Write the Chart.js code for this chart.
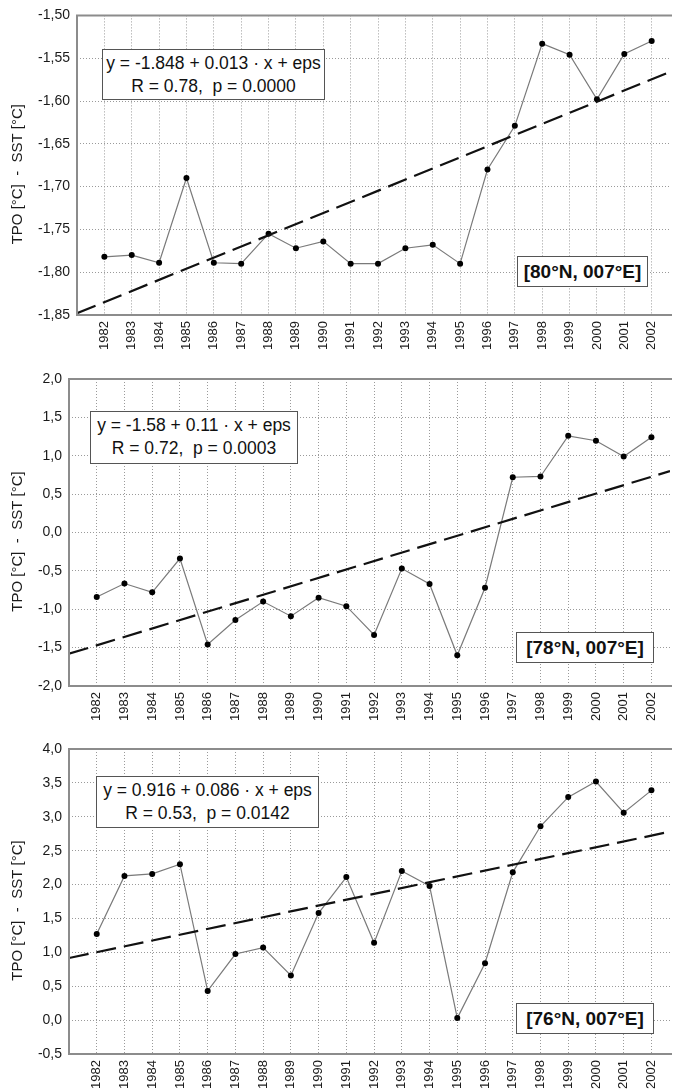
<!DOCTYPE html>
<html>
<head>
<meta charset="utf-8">
<script src="https://cdn.jsdelivr.net/npm/chart.js@4.4.0/dist/chart.umd.min.js"></script>
<style>
body{margin:0;background:#fff;width:674px;height:1092px;position:relative;overflow:hidden;font-family:"Liberation Sans",Arial,sans-serif;}
canvas{position:absolute;left:0;}
.eq{position:absolute;background:#fff;border:1px solid #555;text-align:center;font-size:17.5px;line-height:23px;color:#111;box-sizing:border-box;padding-top:2px;white-space:pre;}
.loc{position:absolute;background:#fff;border:1px solid #555;text-align:center;font-size:19px;font-weight:bold;line-height:29px;color:#111;box-sizing:border-box;white-space:pre;}
</style>
</head>
<body>
<canvas id="c80" width="674" height="370" style="top:0px"></canvas>
<canvas id="c78" width="674" height="370" style="top:360px"></canvas>
<canvas id="c76" width="674" height="372" style="top:720px"></canvas>

<div class="eq" style="left:102px;top:49px;width:223px;height:51px">y = -1.848 + 0.013 · x + eps
R = 0.78,  p = 0.0000</div>
<div class="eq" style="left:90px;top:411px;width:208px;height:53px">y = -1.58 + 0.11 · x + eps
R = 0.72,  p = 0.0003</div>
<div class="eq" style="left:96px;top:776px;width:223px;height:52px">y = 0.916 + 0.086 · x + eps
R = 0.53,  p = 0.0142</div>

<div class="loc" style="left:517px;top:256px;width:131px;height:31px">[80°N, 007°E]</div>
<div class="loc" style="left:516px;top:632px;width:138px;height:31px">[78°N, 007°E]</div>
<div class="loc" style="left:516px;top:1003px;width:138px;height:31px">[76°N, 007°E]</div>

<script>
// years on the x axis
const years = [1982,1983,1984,1985,1986,1987,1988,1989,1990,1991,1992,1993,1994,1995,1996,1997,1998,1999,2000,2001,2002];

// TPO - SST differences
const diff80 = [-1.782,-1.780,-1.789,-1.690,-1.789,-1.790,-1.755,-1.772,-1.764,-1.790,-1.790,-1.772,-1.768,-1.790,-1.680,-1.629,-1.533,-1.546,-1.598,-1.545,-1.530];
const diff78 = [-0.84,-0.665,-0.78,-0.34,-1.46,-1.14,-0.90,-1.09,-0.85,-0.96,-1.335,-0.47,-0.67,-1.60,-0.72,0.72,0.73,1.26,1.195,0.99,1.24];
const diff76 = [1.27,2.127,2.157,2.30,0.43,0.975,1.07,0.66,1.58,2.11,1.14,2.20,1.98,0.03,0.84,2.18,2.86,3.29,3.52,3.06,3.39];

// dashed regression lines, ends at left and right edge of the plot
const trendYears = [1981, 2002.67];
const trend80 = [-1.848, -1.566];
const trend78 = [-1.58, 0.80];
const trend76 = [0.916, 2.78];

// y tick values
const yTicks80 = [-1.85,-1.80,-1.75,-1.70,-1.65,-1.60,-1.55,-1.50];
const yTicks78 = [-2.0,-1.5,-1.0,-0.5,0.0,0.5,1.0,1.5,2.0];
const yTicks76 = [-0.5,0.0,0.5,1.0,1.5,2.0,2.5,3.0,3.5,4.0];

const fontFam = '"Liberation Sans", Arial, sans-serif';

const framePlugin = {
    id: 'frame',
    afterDraw(chart) {
        const a = chart.chartArea;
        const ctx = chart.ctx;
        ctx.save();
        ctx.strokeStyle = '#8c8c8c';
        ctx.lineWidth = 2;
        ctx.beginPath();
        ctx.moveTo(a.right + 2, a.top);
        ctx.lineTo(a.left, a.top);
        ctx.lineTo(a.left, a.bottom);
        ctx.lineTo(a.right + 2, a.bottom);
        ctx.stroke();
        // axis title
        ctx.translate(18, (a.top + a.bottom) / 2 + 9);
        ctx.rotate(-Math.PI / 2);
        ctx.font = '15px ' + fontFam;
        ctx.fillStyle = '#1a1a1a';
        ctx.textAlign = 'center';
        ctx.textBaseline = 'middle';
        ctx.fillText('TPO [°C]  -  SST [°C]', 0, 0);
        ctx.restore();
    }
};

function makePanel(id, values, trend, yTicks, dec, area) {
    const pts = years.map((yr, i) => ({x: yr, y: values[i]}));
    const trendPts = trendYears.map((yr, i) => ({x: yr, y: trend[i]}));
    new Chart(document.getElementById(id), {
        type: 'line',
        data: {
            datasets: [{
                data: trendPts,
                borderColor: '#111',
                borderWidth: 2.2,
                borderDash: [20, 8],
                pointRadius: 0,
                fill: false
            }, {
                data: pts,
                borderColor: '#7a7a7a',
                borderWidth: 1.2,
                pointRadius: 3,
                pointBackgroundColor: '#000',
                pointBorderColor: '#000',
                pointBorderWidth: 0,
                fill: false,
                tension: 0
            }]
        },
        options: {
            responsive: false,
            animation: false,
            devicePixelRatio: 1,
            layout: {padding: {top: area.top, left: 0, right: 0, bottom: 0}},
            plugins: {legend: {display: false}, tooltip: {enabled: false}},
            scales: {
                x: {
                    type: 'linear',
                    min: 1981,
                    max: 2002.67,
                    afterBuildTicks: s => { s.ticks = years.map(v => ({value: v})); },
                    afterFit: s => { s.height = area.axisH; },
                    grid: {color: '#9a9a9a', drawTicks: false, lineWidth: 1},
                    border: {display: false, dash: [1, 2]},
                    ticks: {
                        autoSkip: false,
                        minRotation: 90,
                        maxRotation: 90,
                        padding: 6,
                        color: '#1a1a1a',
                        font: {size: 13, family: fontFam},
                        callback: v => String(v)
                    }
                },
                y: {
                    min: yTicks[0],
                    max: yTicks[yTicks.length - 1],
                    afterBuildTicks: s => { s.ticks = yTicks.map(v => ({value: v})); },
                    afterFit: s => { s.width = area.left; },
                    grid: {color: '#9a9a9a', drawTicks: false, lineWidth: 1},
                    border: {display: false, dash: [1, 2]},
                    ticks: {
                        padding: 7,
                        color: '#1a1a1a',
                        font: {size: 14, family: fontFam},
                        callback: v => v.toFixed(dec).replace('.', ',')
                    }
                }
            }
        },
        plugins: [framePlugin]
    });
}

makePanel('c80', diff80, trend80, yTicks80, 2, {top: 9, left: 77, axisH: 55});
makePanel('c78', diff78, trend78, yTicks78, 1, {top: 19, left: 69, axisH: 44});
makePanel('c76', diff76, trend76, yTicks76, 1, {top: 29, left: 69, axisH: 38});
</script>
</body>
</html>
